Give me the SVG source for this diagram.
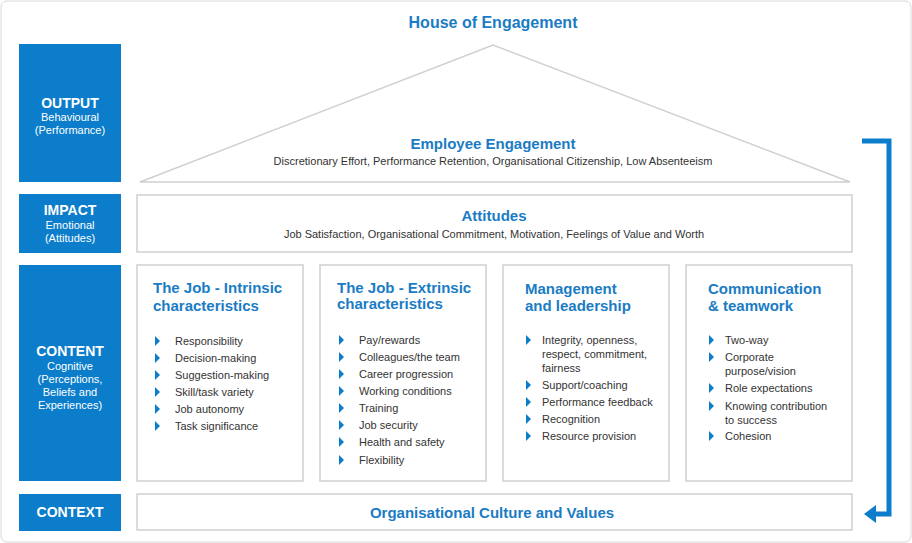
<svg xmlns="http://www.w3.org/2000/svg" width="912" height="543" viewBox="0 0 912 543">
<style>
.side{fill:#0b7dcb}
.st{font-family:"Liberation Sans",Arial,sans-serif;fill:#fff;text-anchor:middle}
.box{fill:#fff;stroke:#cfcfcf;stroke-width:1.5}
.h{font-family:"Liberation Sans",Arial,sans-serif;font-weight:bold;fill:#1a7cc4}
.t{font-family:"Liberation Sans",Arial,sans-serif;font-size:11px;fill:#333}
.b{fill:#0b7dcb}
</style>
<defs>
<polygon id="bl" points="0,-5 5,0 0,5" class="b"/>
</defs>
<rect x="1" y="1" width="910" height="541" rx="6" fill="#fff" stroke="#d8d8d8"/>
<g id="side-output"><rect class="side" x="19" y="44" width="102" height="138"/>
<text class="st" x="70" y="108" font-size="14" font-weight="bold">OUTPUT</text>
<text class="st" x="70" y="121" font-size="11">Behavioural</text>
<text class="st" x="70" y="134" font-size="11">(Performance)</text></g>
<g id="side-impact"><rect class="side" x="19" y="194" width="102" height="59"/>
<text class="st" x="70" y="215" font-size="14" font-weight="bold">IMPACT</text>
<text class="st" x="70" y="229" font-size="11">Emotional</text>
<text class="st" x="70" y="242" font-size="11">(Attitudes)</text></g>
<g id="side-content"><rect class="side" x="19" y="265" width="102" height="216"/>
<text class="st" x="70" y="356" font-size="14" font-weight="bold">CONTENT</text>
<text class="st" x="70" y="370" font-size="11">Cognitive</text>
<text class="st" x="70" y="383" font-size="11">(Perceptions,</text>
<text class="st" x="70" y="396" font-size="11">Beliefs and</text>
<text class="st" x="70" y="409" font-size="11">Experiences)</text></g>
<g id="side-context"><rect class="side" x="19" y="494" width="102" height="37"/>
<text class="st" x="70" y="517" font-size="14" font-weight="bold">CONTEXT</text></g>

<text class="h" x="493" y="28" font-size="16" text-anchor="middle">House of Engagement</text>
<g id="roof"><polygon points="140,182 493,45 850,182" fill="#fff" stroke="#cfcfcf" stroke-width="1.5"/>
<text class="h" x="493" y="149" font-size="15" text-anchor="middle">Employee Engagement</text>
<text class="t" x="493" y="165" text-anchor="middle">Discretionary Effort, Performance Retention, Organisational Citizenship, Low Absenteeism</text></g>
<g id="attitudes"><rect class="box" x="137" y="195" width="715" height="57"/>
<text class="h" x="494" y="221" font-size="15" text-anchor="middle">Attitudes</text>
<text class="t" x="494" y="238" text-anchor="middle">Job Satisfaction, Organisational Commitment, Motivation, Feelings of Value and Worth</text></g>

<g id="col1"><rect class="box" x="137" y="265" width="166" height="216"/>
<text class="h" x="153" y="293" font-size="15">The Job - Intrinsic</text>
<text class="h" x="153" y="311" font-size="15">characteristics</text>
<g class="t"><use href="#bl" x="155" y="341"/><text x="175" y="345">Responsibility</text>
<use href="#bl" x="155" y="358"/><text x="175" y="362">Decision-making</text>
<use href="#bl" x="155" y="375"/><text x="175" y="379">Suggestion-making</text>
<use href="#bl" x="155" y="392"/><text x="175" y="396">Skill/task variety</text>
<use href="#bl" x="155" y="409"/><text x="175" y="413">Job autonomy</text>
<use href="#bl" x="155" y="426"/><text x="175" y="430">Task significance</text></g></g>

<g id="col2"><rect class="box" x="320" y="265" width="166" height="216"/>
<text class="h" x="337" y="293" font-size="15">The Job - Extrinsic</text>
<text class="h" x="337" y="309" font-size="15">characteristics</text>
<g class="t"><use href="#bl" x="339" y="340"/><text x="359" y="344">Pay/rewards</text>
<use href="#bl" x="339" y="357"/><text x="359" y="361">Colleagues/the team</text>
<use href="#bl" x="339" y="374"/><text x="359" y="378">Career progression</text>
<use href="#bl" x="339" y="391"/><text x="359" y="395">Working conditions</text>
<use href="#bl" x="339" y="408"/><text x="359" y="412">Training</text>
<use href="#bl" x="339" y="425"/><text x="359" y="429">Job security</text>
<use href="#bl" x="339" y="442"/><text x="359" y="446">Health and safety</text>
<use href="#bl" x="339" y="460"/><text x="359" y="464">Flexibility</text></g></g>

<g id="col3"><rect class="box" x="503" y="265" width="166" height="216"/>
<text class="h" x="525" y="294" font-size="15">Management</text>
<text class="h" x="525" y="311" font-size="15">and leadership</text>
<g class="t"><use href="#bl" x="526" y="340"/><text x="542" y="344">Integrity, openness,</text>
<text x="542" y="358">respect, commitment,</text><text x="542" y="372">fairness</text>
<use href="#bl" x="526" y="385"/><text x="542" y="389">Support/coaching</text>
<use href="#bl" x="526" y="402"/><text x="542" y="406">Performance feedback</text>
<use href="#bl" x="526" y="419"/><text x="542" y="423">Recognition</text>
<use href="#bl" x="526" y="436"/><text x="542" y="440">Resource provision</text></g></g>

<g id="col4"><rect class="box" x="686" y="265" width="166" height="216"/>
<text class="h" x="708" y="294" font-size="15">Communication</text>
<text class="h" x="708" y="311" font-size="15">&amp; teamwork</text>
<g class="t"><use href="#bl" x="709" y="340"/><text x="725" y="344">Two-way</text>
<use href="#bl" x="709" y="357"/><text x="725" y="361">Corporate</text><text x="725" y="375">purpose/vision</text>
<use href="#bl" x="709" y="388"/><text x="725" y="392">Role expectations</text>
<use href="#bl" x="709" y="406"/><text x="725" y="410">Knowing contribution</text><text x="725" y="424">to success</text>
<use href="#bl" x="709" y="436"/><text x="725" y="440">Cohesion</text></g></g>

<g id="context"><rect class="box" x="137" y="494" width="715" height="36"/>
<text class="h" x="492" y="518" font-size="15" text-anchor="middle">Organisational Culture and Values</text></g>

<g id="connectors">
<polyline points="862,141 889,141 889,514 874,514" fill="none" stroke="#0b7dcb" stroke-width="5"/>
<polygon points="864,514 876,505 876,523" fill="#0b7dcb"/>
</g>
</svg>
